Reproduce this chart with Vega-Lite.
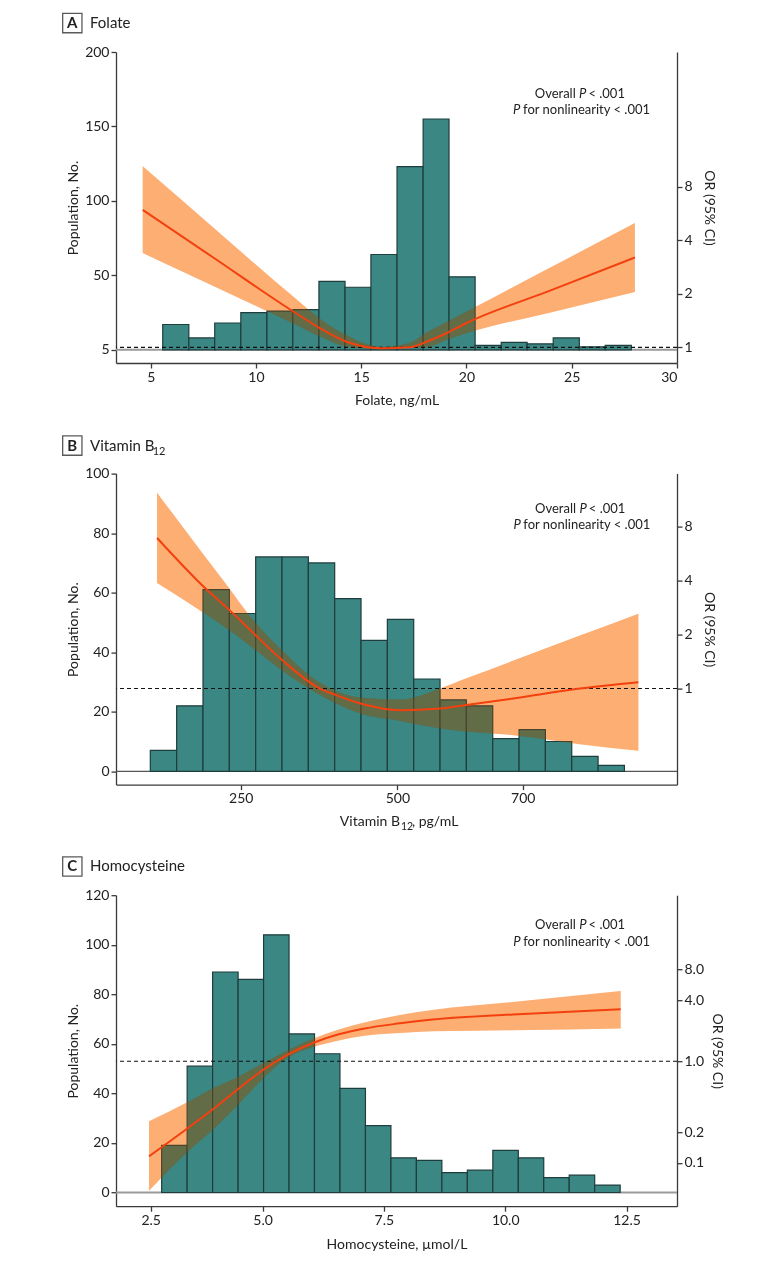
{
  "$schema": "https://vega.github.io/schema/vega-lite/v6.json",
  "background": "white",
  "padding": {"left": 60, "top": 10, "right": 5, "bottom": 5},
  "spacing": 110.6,
  "bounds": "flush",
  "config": {
    "font": "Lato",
    "view": {"stroke": null},
    "text": {"font": "Lato", "color": "#222"},
    "axis": {
      "grid": false,
      "domainColor": "#3a3a3a", "domainWidth": 1.3,
      "tickColor": "#3a3a3a", "tickWidth": 1.3, "tickSize": 5,
      "labelFont": "Lato", "labelFontSize": 14, "labelColor": "#222",
      "titleFont": "Lato", "titleFontSize": 14, "titleFontWeight": "normal", "titleColor": "#222"
    }
  },
  "datasets": {
    "aBars": [
      {"start": 5.57, "end": 6.81, "count": 17}, {"start": 6.81, "end": 8.04, "count": 8},
      {"start": 8.04, "end": 9.28, "count": 18}, {"start": 9.28, "end": 10.52, "count": 25},
      {"start": 10.52, "end": 11.75, "count": 26}, {"start": 11.75, "end": 12.99, "count": 27},
      {"start": 12.99, "end": 14.23, "count": 46}, {"start": 14.23, "end": 15.46, "count": 42},
      {"start": 15.46, "end": 16.70, "count": 64}, {"start": 16.70, "end": 17.94, "count": 123},
      {"start": 17.94, "end": 19.17, "count": 155}, {"start": 19.17, "end": 20.41, "count": 49},
      {"start": 20.41, "end": 21.65, "count": 3}, {"start": 21.65, "end": 22.88, "count": 5},
      {"start": 22.88, "end": 24.12, "count": 4}, {"start": 24.12, "end": 25.36, "count": 8},
      {"start": 25.36, "end": 26.59, "count": 2}, {"start": 26.59, "end": 27.83, "count": 3}
    ],
    "aCurve": [
      {"x": 4.62, "or": 5.94, "lo": 3.39, "hi": 10.43},
      {"x": 7.97, "or": 3.20, "lo": 2.21, "hi": 4.72},
      {"x": 11.77, "or": 1.59, "lo": 1.36, "hi": 1.93},
      {"x": 13.04, "or": 1.28, "lo": 1.15, "hi": 1.45},
      {"x": 14.30, "or": 1.075, "lo": 1.01, "hi": 1.17},
      {"x": 16.04, "or": 0.987, "lo": 0.975, "hi": 1.005},
      {"x": 17.31, "or": 1.0, "lo": 0.99, "hi": 1.06},
      {"x": 18.10, "or": 1.075, "lo": 1.0, "hi": 1.21},
      {"x": 19.05, "or": 1.2, "lo": 1.1, "hi": 1.39},
      {"x": 20.0, "or": 1.37, "lo": 1.2, "hi": 1.59},
      {"x": 24.0, "or": 2.09, "lo": 1.57, "hi": 2.82},
      {"x": 28.0, "or": 3.2, "lo": 2.05, "hi": 5.0}
    ],
    "bBars": [
      {"start": 105.75, "end": 147.77, "count": 7}, {"start": 147.77, "end": 189.79, "count": 22},
      {"start": 189.79, "end": 231.81, "count": 61}, {"start": 231.81, "end": 273.83, "count": 53},
      {"start": 273.83, "end": 315.85, "count": 72}, {"start": 315.85, "end": 357.87, "count": 72},
      {"start": 357.87, "end": 399.89, "count": 70}, {"start": 399.89, "end": 441.91, "count": 58},
      {"start": 441.91, "end": 483.93, "count": 44}, {"start": 483.93, "end": 525.95, "count": 51},
      {"start": 525.95, "end": 567.97, "count": 31}, {"start": 567.97, "end": 609.99, "count": 24},
      {"start": 609.99, "end": 652.01, "count": 22}, {"start": 652.01, "end": 694.03, "count": 11},
      {"start": 694.03, "end": 736.05, "count": 14}, {"start": 736.05, "end": 778.07, "count": 10},
      {"start": 778.07, "end": 820.09, "count": 5}, {"start": 820.09, "end": 862.11, "count": 2}
    ],
    "bCurve": [
      {"x": 116.5, "or": 6.88, "lo": 3.87, "hi": 12.3},
      {"x": 190, "or": 3.71, "lo": 2.65, "hi": 5.6},
      {"x": 232, "or": 2.73, "lo": 2.11, "hi": 3.6},
      {"x": 262, "or": 2.17, "lo": 1.76, "hi": 2.6},
      {"x": 316, "or": 1.44, "lo": 1.26, "hi": 1.63},
      {"x": 376, "or": 1.0, "lo": 0.92, "hi": 1.08},
      {"x": 398, "or": 0.93, "lo": 0.84, "hi": 0.98},
      {"x": 441, "or": 0.825, "lo": 0.726, "hi": 0.89},
      {"x": 504, "or": 0.757, "lo": 0.66, "hi": 0.868},
      {"x": 568, "or": 0.774, "lo": 0.6, "hi": 1.0},
      {"x": 610, "or": 0.81, "lo": 0.576, "hi": 1.14},
      {"x": 685, "or": 0.88, "lo": 0.55, "hi": 1.43},
      {"x": 791, "or": 1.0, "lo": 0.49, "hi": 1.97},
      {"x": 884.4, "or": 1.085, "lo": 0.45, "hi": 2.61}
    ],
    "cBars": [
      {"start": 2.921, "end": 3.446, "count": 19}, {"start": 3.446, "end": 3.971, "count": 51},
      {"start": 3.971, "end": 4.496, "count": 89}, {"start": 4.496, "end": 5.021, "count": 86},
      {"start": 5.021, "end": 5.546, "count": 104}, {"start": 5.546, "end": 6.070, "count": 64},
      {"start": 6.070, "end": 6.595, "count": 56}, {"start": 6.595, "end": 7.120, "count": 42},
      {"start": 7.120, "end": 7.645, "count": 27}, {"start": 7.645, "end": 8.170, "count": 14},
      {"start": 8.170, "end": 8.695, "count": 13}, {"start": 8.695, "end": 9.220, "count": 8},
      {"start": 9.220, "end": 9.745, "count": 9}, {"start": 9.745, "end": 10.270, "count": 17},
      {"start": 10.270, "end": 10.794, "count": 14}, {"start": 10.794, "end": 11.319, "count": 6},
      {"start": 11.319, "end": 11.844, "count": 7}, {"start": 11.844, "end": 12.369, "count": 3}
    ],
    "cCurve": [
      {"x": 2.66, "or": 0.116, "lo": 0.053, "hi": 0.257},
      {"x": 3.45, "or": 0.218, "lo": 0.128, "hi": 0.395},
      {"x": 3.97, "or": 0.335, "lo": 0.21, "hi": 0.54},
      {"x": 4.49, "or": 0.53, "lo": 0.37, "hi": 0.70},
      {"x": 5.0, "or": 0.816, "lo": 0.67, "hi": 0.95},
      {"x": 5.52, "or": 1.16, "lo": 1.09, "hi": 1.28},
      {"x": 6.05, "or": 1.52, "lo": 1.38, "hi": 1.67},
      {"x": 6.57, "or": 1.84, "lo": 1.6, "hi": 2.05},
      {"x": 7.1, "or": 2.10, "lo": 1.78, "hi": 2.4},
      {"x": 7.83, "or": 2.36, "lo": 1.9, "hi": 2.85},
      {"x": 8.5, "or": 2.57, "lo": 1.97, "hi": 3.2},
      {"x": 10.16, "or": 2.89, "lo": 2.02, "hi": 3.83},
      {"x": 12.38, "or": 3.25, "lo": 2.1, "hi": 4.92}
    ]
  },
  "vconcat": [
    {
      "width": 561, "height": 311,
      "layer": [
        {
          "layer": [
            {"data": {"values": [{}]}, "mark": {"type": "rule", "color": "#9a9a9a", "strokeWidth": 2}, "encoding": {"y": {"datum": 0, "type": "quantitative"}}},
            {"data": {"name": "aBars"}, "mark": {"type": "rect", "fill": "#3b8784", "stroke": "#1f3d3c", "strokeWidth": 1.2},
             "encoding": {
               "x": {"field": "start", "type": "quantitative", "scale": {"domain": [3.35, 30], "nice": false, "zero": false}, "axis": {"values": [5, 10, 15, 20, 25, 30], "format": "d", "title": "Folate, ng/mL", "titlePadding": 9}},
               "x2": {"field": "end"},
               "y": {"field": "count", "type": "quantitative", "scale": {"domain": [-8.86, 200], "nice": false, "zero": false}, "axis": {"orient": "left", "values": [0, 50, 100, 150, 200], "labelExpr": "datum.value == 0 ? '5' : datum.label", "title": "Population, No."}},
               "y2": {"datum": 0}
             }},
            {"data": {"values": [{}]}, "mark": {"type": "point", "shape": "square", "size": 372, "filled": false, "stroke": "#5a5a5a", "strokeWidth": 1.3, "opacity": 1}, "encoding": {"x": {"datum": 1.275, "type": "quantitative"}, "y": {"datum": 219.4, "type": "quantitative"}}},
            {"data": {"values": [{}]}, "mark": {"type": "text", "text": "A", "fontWeight": "bold", "fontSize": 15, "align": "center", "baseline": "middle"}, "encoding": {"x": {"datum": 1.275, "type": "quantitative"}, "y": {"datum": 219.4, "type": "quantitative"}}},
            {"data": {"values": [{}]}, "mark": {"type": "text", "text": "Folate", "fontSize": 15, "align": "left", "baseline": "middle"}, "encoding": {"x": {"datum": 2.116, "type": "quantitative"}, "y": {"datum": 219.4, "type": "quantitative"}}},
            {"data": {"values": [{}]}, "mark": {"type": "text", "text": "Overall", "fontSize": 13, "align": "right", "baseline": "middle"}, "encoding": {"x": {"datum": 25.19, "type": "quantitative"}, "y": {"datum": 171.6, "type": "quantitative"}}},
            {"data": {"values": [{}]}, "mark": {"type": "text", "text": "P", "fontStyle": "italic", "fontSize": 13, "align": "left", "baseline": "middle"}, "encoding": {"x": {"datum": 25.35, "type": "quantitative"}, "y": {"datum": 171.6, "type": "quantitative"}}},
            {"data": {"values": [{}]}, "mark": {"type": "text", "text": "< .001", "fontSize": 13, "align": "left", "baseline": "middle"}, "encoding": {"x": {"datum": 25.79, "type": "quantitative"}, "y": {"datum": 171.6, "type": "quantitative"}}},
            {"data": {"values": [{}]}, "mark": {"type": "text", "text": "P", "fontStyle": "italic", "fontSize": 13, "align": "left", "baseline": "middle"}, "encoding": {"x": {"datum": 22.21, "type": "quantitative"}, "y": {"datum": 161.0, "type": "quantitative"}}},
            {"data": {"values": [{}]}, "mark": {"type": "text", "text": "for nonlinearity < .001", "fontSize": 13, "align": "left", "baseline": "middle"}, "encoding": {"x": {"datum": 22.69, "type": "quantitative"}, "y": {"datum": 161.0, "type": "quantitative"}}}
          ]
        },
        {
          "layer": [
            {"data": {"name": "aCurve"}, "mark": {"type": "area", "color": "#fdae74", "interpolate": "monotone", "blend": "multiply"},
             "encoding": {
               "x": {"field": "x", "type": "quantitative"},
               "y": {"field": "lo", "type": "quantitative", "scale": {"type": "log", "base": 2, "domain": [0.816, 45.9], "nice": false}, "axis": {"orient": "right", "values": [1, 2, 4, 8], "format": "d", "title": "OR (95% CI)", "titlePadding": 9}},
               "y2": {"field": "hi"}
             }},
            {"data": {"name": "aCurve"}, "mark": {"type": "area", "color": "#fdae74", "interpolate": "monotone", "opacity": 0.2},
             "encoding": {"x": {"field": "x", "type": "quantitative"}, "y": {"field": "lo", "type": "quantitative"}, "y2": {"field": "hi"}}},
            {"data": {"values": [{}]}, "mark": {"type": "rule", "color": "#111", "strokeDash": [4, 3], "strokeWidth": 1.2}, "encoding": {"y": {"datum": 1, "type": "quantitative"}}},
            {"data": {"name": "aCurve"}, "mark": {"type": "line", "color": "#f2400f", "strokeWidth": 2, "interpolate": "monotone"},
             "encoding": {"x": {"field": "x", "type": "quantitative"}, "y": {"field": "or", "type": "quantitative"}}}
          ]
        }
      ],
      "resolve": {"scale": {"y": "independent"}}
    },
    {
      "width": 561, "height": 311,
      "layer": [
        {
          "layer": [
            {"data": {"values": [{}]}, "mark": {"type": "rule", "color": "#555", "strokeWidth": 1.3}, "encoding": {"y": {"datum": 0, "type": "quantitative"}}},
            {"data": {"name": "bBars"}, "mark": {"type": "rect", "fill": "#3b8784", "stroke": "#1f3d3c", "strokeWidth": 1.2},
             "encoding": {
               "x": {"field": "start", "type": "quantitative", "scale": {"domain": [51, 946], "nice": false, "zero": false}, "axis": {"values": [250, 500, 700], "format": "d", "title": null}},
               "x2": {"field": "end"},
               "y": {"field": "count", "type": "quantitative", "scale": {"domain": [-4.47, 100], "nice": false, "zero": false}, "axis": {"orient": "left", "values": [0, 20, 40, 60, 80, 100], "title": "Population, No."}},
               "y2": {"datum": 0}
             }},
            {"data": {"values": [{}]}, "mark": {"type": "point", "shape": "square", "size": 372, "filled": false, "stroke": "#5a5a5a", "strokeWidth": 1.3, "opacity": 1}, "encoding": {"x": {"datum": -18.7, "type": "quantitative"}, "y": {"datum": 109.4, "type": "quantitative"}}},
            {"data": {"values": [{}]}, "mark": {"type": "text", "text": "B", "fontWeight": "bold", "fontSize": 15, "align": "center", "baseline": "middle"}, "encoding": {"x": {"datum": -18.7, "type": "quantitative"}, "y": {"datum": 109.4, "type": "quantitative"}}},
            {"data": {"values": [{}]}, "mark": {"type": "text", "text": "Vitamin B", "fontSize": 15, "align": "left", "baseline": "middle"}, "encoding": {"x": {"datum": 9.5, "type": "quantitative"}, "y": {"datum": 109.4, "type": "quantitative"}}},
            {"data": {"values": [{}]}, "mark": {"type": "text", "text": "12", "fontSize": 11, "align": "left", "baseline": "middle"}, "encoding": {"x": {"datum": 109.5, "type": "quantitative"}, "y": {"datum": 107.4, "type": "quantitative"}}},
            {"data": {"values": [{}]}, "mark": {"type": "text", "text": "Vitamin B", "fontSize": 14, "align": "right", "baseline": "middle"}, "encoding": {"x": {"datum": 504.1, "type": "quantitative"}, "y": {"datum": -17.1, "type": "quantitative"}}},
            {"data": {"values": [{}]}, "mark": {"type": "text", "text": "12", "fontSize": 10.5, "align": "left", "baseline": "middle"}, "encoding": {"x": {"datum": 505.7, "type": "quantitative"}, "y": {"datum": -18.7, "type": "quantitative"}}},
            {"data": {"values": [{}]}, "mark": {"type": "text", "text": ", pg/mL", "fontSize": 14, "align": "left", "baseline": "middle"}, "encoding": {"x": {"datum": 523.2, "type": "quantitative"}, "y": {"datum": -17.1, "type": "quantitative"}}},
            {"data": {"values": [{}]}, "mark": {"type": "text", "text": "Overall", "fontSize": 13, "align": "right", "baseline": "middle"}, "encoding": {"x": {"datum": 785.0, "type": "quantitative"}, "y": {"datum": 88.2, "type": "quantitative"}}},
            {"data": {"values": [{}]}, "mark": {"type": "text", "text": "P", "fontStyle": "italic", "fontSize": 13, "align": "left", "baseline": "middle"}, "encoding": {"x": {"datum": 790.3, "type": "quantitative"}, "y": {"datum": 88.2, "type": "quantitative"}}},
            {"data": {"values": [{}]}, "mark": {"type": "text", "text": "< .001", "fontSize": 13, "align": "left", "baseline": "middle"}, "encoding": {"x": {"datum": 805.3, "type": "quantitative"}, "y": {"datum": 88.2, "type": "quantitative"}}},
            {"data": {"values": [{}]}, "mark": {"type": "text", "text": "P", "fontStyle": "italic", "fontSize": 13, "align": "left", "baseline": "middle"}, "encoding": {"x": {"datum": 685.0, "type": "quantitative"}, "y": {"datum": 82.9, "type": "quantitative"}}},
            {"data": {"values": [{}]}, "mark": {"type": "text", "text": "for nonlinearity < .001", "fontSize": 13, "align": "left", "baseline": "middle"}, "encoding": {"x": {"datum": 700.9, "type": "quantitative"}, "y": {"datum": 82.9, "type": "quantitative"}}}
          ]
        },
        {
          "layer": [
            {"data": {"name": "bCurve"}, "mark": {"type": "area", "color": "#fdae74", "interpolate": "monotone", "blend": "multiply"},
             "encoding": {
               "x": {"field": "x", "type": "quantitative"},
               "y": {"field": "lo", "type": "quantitative", "scale": {"type": "log", "base": 2, "domain": [0.292, 15.7], "nice": false}, "axis": {"orient": "right", "values": [1, 2, 4, 8], "format": "d", "title": "OR (95% CI)", "titlePadding": 9}},
               "y2": {"field": "hi"}
             }},
            {"data": {"name": "bCurve"}, "mark": {"type": "area", "color": "#fdae74", "interpolate": "monotone", "opacity": 0.2},
             "encoding": {"x": {"field": "x", "type": "quantitative"}, "y": {"field": "lo", "type": "quantitative"}, "y2": {"field": "hi"}}},
            {"data": {"values": [{}]}, "mark": {"type": "rule", "color": "#111", "strokeDash": [4, 3], "strokeWidth": 1.2}, "encoding": {"y": {"datum": 1, "type": "quantitative"}}},
            {"data": {"name": "bCurve"}, "mark": {"type": "line", "color": "#f2400f", "strokeWidth": 2, "interpolate": "monotone"},
             "encoding": {"x": {"field": "x", "type": "quantitative"}, "y": {"field": "or", "type": "quantitative"}}}
          ]
        }
      ],
      "resolve": {"scale": {"y": "independent"}}
    },
    {
      "width": 561, "height": 311,
      "layer": [
        {
          "layer": [
            {"data": {"values": [{}]}, "mark": {"type": "rule", "color": "#9a9a9a", "strokeWidth": 2}, "encoding": {"y": {"datum": 0, "type": "quantitative"}}},
            {"data": {"name": "cBars"}, "mark": {"type": "rect", "fill": "#3b8784", "stroke": "#1f3d3c", "strokeWidth": 1.2},
             "encoding": {
               "x": {"field": "start", "type": "quantitative", "scale": {"domain": [1.98, 13.54], "nice": false, "zero": false}, "axis": {"values": [2.695, 5, 7.5, 10, 12.5], "labelExpr": "datum.value < 3 ? '2.5' : format(datum.value, '.1f')", "title": "Homocysteine, µmol/L", "titlePadding": 10}},
               "x2": {"field": "end"},
               "y": {"field": "count", "type": "quantitative", "scale": {"domain": [-5.53, 120], "nice": false, "zero": false}, "axis": {"orient": "left", "values": [0, 20, 40, 60, 80, 100, 120], "title": "Population, No."}},
               "y2": {"datum": 0}
             }},
            {"data": {"values": [{}]}, "mark": {"type": "point", "shape": "square", "size": 372, "filled": false, "stroke": "#5a5a5a", "strokeWidth": 1.3, "opacity": 1}, "encoding": {"x": {"datum": 1.08, "type": "quantitative"}, "y": {"datum": 131.6, "type": "quantitative"}}},
            {"data": {"values": [{}]}, "mark": {"type": "text", "text": "C", "fontWeight": "bold", "fontSize": 15, "align": "center", "baseline": "middle"}, "encoding": {"x": {"datum": 1.08, "type": "quantitative"}, "y": {"datum": 131.6, "type": "quantitative"}}},
            {"data": {"values": [{}]}, "mark": {"type": "text", "text": "Homocysteine", "fontSize": 15, "align": "left", "baseline": "middle"}, "encoding": {"x": {"datum": 1.444, "type": "quantitative"}, "y": {"datum": 131.6, "type": "quantitative"}}},
            {"data": {"values": [{}]}, "mark": {"type": "text", "text": "Overall", "fontSize": 13, "align": "right", "baseline": "middle"}, "encoding": {"x": {"datum": 11.457, "type": "quantitative"}, "y": {"datum": 107.8, "type": "quantitative"}}},
            {"data": {"values": [{}]}, "mark": {"type": "text", "text": "P", "fontStyle": "italic", "fontSize": 13, "align": "left", "baseline": "middle"}, "encoding": {"x": {"datum": 11.524, "type": "quantitative"}, "y": {"datum": 107.8, "type": "quantitative"}}},
            {"data": {"values": [{}]}, "mark": {"type": "text", "text": "< .001", "fontSize": 13, "align": "left", "baseline": "middle"}, "encoding": {"x": {"datum": 11.718, "type": "quantitative"}, "y": {"datum": 107.8, "type": "quantitative"}}},
            {"data": {"values": [{}]}, "mark": {"type": "text", "text": "P", "fontStyle": "italic", "fontSize": 13, "align": "left", "baseline": "middle"}, "encoding": {"x": {"datum": 10.165, "type": "quantitative"}, "y": {"datum": 101.3, "type": "quantitative"}}},
            {"data": {"values": [{}]}, "mark": {"type": "text", "text": "for nonlinearity < .001", "fontSize": 13, "align": "left", "baseline": "middle"}, "encoding": {"x": {"datum": 10.371, "type": "quantitative"}, "y": {"datum": 101.3, "type": "quantitative"}}}
          ]
        },
        {
          "layer": [
            {"data": {"name": "cCurve"}, "mark": {"type": "area", "color": "#fdae74", "interpolate": "monotone", "blend": "multiply"},
             "encoding": {
               "x": {"field": "x", "type": "quantitative"},
               "y": {"field": "lo", "type": "quantitative", "scale": {"type": "log", "base": 2, "domain": [0.0374, 43.1], "nice": false}, "axis": {"orient": "right", "values": [0.1, 0.2, 1, 4, 8], "format": ".1f", "title": "OR (95% CI)", "titlePadding": 6}},
               "y2": {"field": "hi"}
             }},
            {"data": {"name": "cCurve"}, "mark": {"type": "area", "color": "#fdae74", "interpolate": "monotone", "opacity": 0.2},
             "encoding": {"x": {"field": "x", "type": "quantitative"}, "y": {"field": "lo", "type": "quantitative"}, "y2": {"field": "hi"}}},
            {"data": {"values": [{}]}, "mark": {"type": "rule", "color": "#111", "strokeDash": [4, 3], "strokeWidth": 1.2}, "encoding": {"y": {"datum": 1, "type": "quantitative"}}},
            {"data": {"name": "cCurve"}, "mark": {"type": "line", "color": "#f2400f", "strokeWidth": 2, "interpolate": "monotone"},
             "encoding": {"x": {"field": "x", "type": "quantitative"}, "y": {"field": "or", "type": "quantitative"}}}
          ]
        }
      ],
      "resolve": {"scale": {"y": "independent"}}
    }
  ]
}
